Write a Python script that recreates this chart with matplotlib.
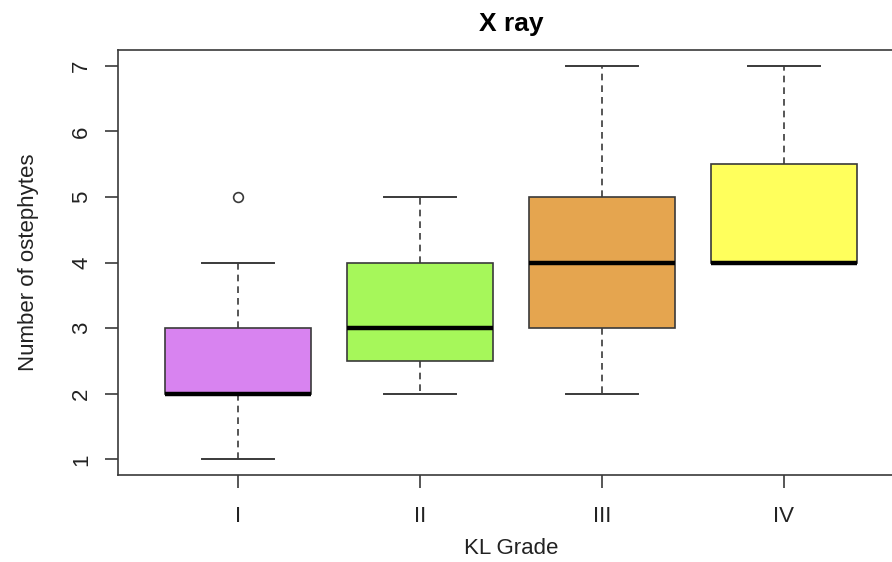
import matplotlib
matplotlib.use("Agg")
import matplotlib.pyplot as plt

# Box statistics (KL grade groups)
GRADES = ["I", "II", "III", "IV"]
WHISKER_LOW = [1, 2, 2, 4]
Q1 = [2, 2.5, 3, 4]
MEDIAN = [2, 3, 4, 4]
Q3 = [3, 4, 5, 5.5]
WHISKER_HIGH = [4, 5, 7, 7]
OUTLIERS = [[5], [], [], []]
BOX_COLORS = ["#D883F0", "#A6F75A", "#E5A54F", "#FFFF5C"]

plt.rcParams["font.family"] = ["Liberation Sans", "DejaVu Sans"]
LINE = "#3a3a3a"
TEXT = "#222222"

fig = plt.figure(figsize=(8.92, 5.62), dpi=100, facecolor="white")
# right edge of the plot box sits just outside the picture, as in the reference
ax = fig.add_axes([118 / 892, 1 - 475 / 562, (904 - 118) / 892, (475 - 50) / 562])

stats = []
for i, g in enumerate(GRADES):
    stats.append({
        "label": g,
        "whislo": WHISKER_LOW[i],
        "q1": Q1[i],
        "med": MEDIAN[i],
        "q3": Q3[i],
        "whishi": WHISKER_HIGH[i],
        "fliers": OUTLIERS[i],
    })

positions = list(range(1, len(GRADES) + 1))
res = ax.bxp(stats, positions=positions, widths=0.8, patch_artist=True,
             showfliers=True,
             boxprops=dict(edgecolor=LINE, linewidth=1.2),
             medianprops=dict(color="black", linewidth=3.2, solid_capstyle="butt"),
             whiskerprops=dict(color=LINE, linewidth=1.2, linestyle=(0, (4, 3))),
             capprops=dict(color=LINE, linewidth=1.4),
             capwidths=0.4,
             flierprops=dict(marker="o", markersize=7, markerfacecolor="none",
                             markeredgecolor=LINE, markeredgewidth=1.2))
for patch, c in zip(res["boxes"], BOX_COLORS):
    patch.set_facecolor(c)

ax.set_xlim(0.34, 4.66)
ax.set_ylim(0.76, 7.24)
ax.set_yticks(range(1, 8))
ax.set_xticks(positions)
ax.set_xticklabels(GRADES)

for side in ("top", "left", "bottom", "right"):
    ax.spines[side].set_color(LINE)
    ax.spines[side].set_linewidth(1.2)

ax.tick_params(axis="both", direction="out", length=9.5, width=1.2, color=LINE,
               labelcolor=TEXT, labelsize=16)
ax.tick_params(axis="x", pad=13)
ax.tick_params(axis="y", pad=9)
for lbl in ax.get_yticklabels():
    lbl.set_rotation(90)
    lbl.set_verticalalignment("center")

ax.set_title("X ray", fontsize=19, fontweight="bold", color="black", pad=14)
ax.set_xlabel("KL Grade", fontsize=16, color=TEXT, labelpad=8)
ax.set_ylabel("Number of ostephytes", fontsize=16, color=TEXT, labelpad=23)

fig.savefig("out.png", dpi=100, facecolor="white")
